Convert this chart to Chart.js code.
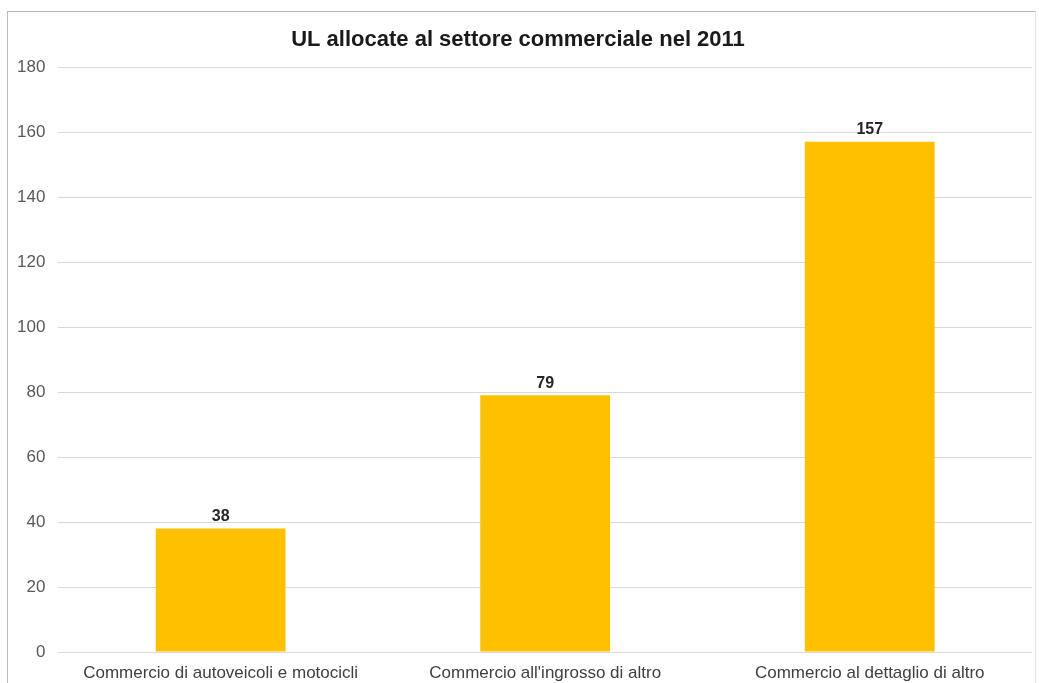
<!DOCTYPE html>
<html>
<head>
<meta charset="utf-8">
<script src="https://cdn.jsdelivr.net/npm/chart.js@4"></script>
<style>
  html, body { margin: 0; padding: 0; background: #fff; overflow: hidden; }
  #wrap { position: relative; width: 1039px; height: 683px; overflow: hidden; }
  #frame { position: absolute; left: 7px; top: 11px; width: 1027px; height: 690px;
           border: 1px solid #aebbd6; border-right-color: #e1e6ef; pointer-events: none; }
</style>
</head>
<body>
<div id="wrap">
  <canvas id="bars" width="1039" height="687"></canvas>
  <div id="frame"></div>
</div>
<script>
const categories = ['Commercio di autoveicoli e motocicli', "Commercio all'ingrosso di altro", 'Commercio al dettaglio di altro'];
const unita = [38, 79, 157];
const yTicks = [0, 20, 40, 60, 80, 100, 120, 140, 160, 180];

// numbers above each bar
const valueLabels = {
  id: 'valueLabels',
  afterDatasetsDraw(chart) {
    const ctx = chart.ctx;
    const meta = chart.getDatasetMeta(0);
    ctx.save();
    ctx.font = 'bold 16px "Liberation Sans", Arial, sans-serif';
    ctx.fillStyle = '#262626';
    ctx.textAlign = 'center';
    ctx.textBaseline = 'bottom';
    meta.data.forEach((bar, i) => {
      ctx.fillText(unita[i], bar.x, bar.y - 4);
    });
    ctx.restore();
  }
};

const ctx = document.getElementById('bars').getContext('2d');
new Chart(ctx, {
  type: 'bar',
  data: {
    labels: categories,
    datasets: [{
      label: 'UL',
      data: unita,
      backgroundColor: '#ffc000',
      borderWidth: 0,
      categoryPercentage: 0.8,
      barPercentage: 0.5
    }]
  },
  options: {
    responsive: false,
    animation: false,
    layout: { padding: { left: 4, right: 7, top: 27, bottom: 0 } },
    plugins: {
      legend: { display: false },
      tooltip: { enabled: false },
      title: {
        display: true,
        text: 'UL allocate al settore commerciale nel 2011',
        color: '#1a1a1a',
        font: { family: '"Liberation Sans", Arial, sans-serif', size: 22, weight: 'bold' },
        padding: { top: 0, bottom: 13.6 }
      }
    },
    scales: {
      x: {
        grid: { display: false },
        border: { display: false },
        ticks: {
          color: '#404040',
          padding: 3.3,
          maxRotation: 0,
          font: { family: '"Liberation Sans", Arial, sans-serif', size: 17 }
        }
      },
      y: {
        min: 0,
        max: 180,
        afterBuildTicks(axis) { axis.ticks = yTicks.map(v => ({ value: v })); },
        grid: { color: '#d9d9d9', lineWidth: 1, drawTicks: false },
        border: { display: false },
        ticks: {
          color: '#595959',
          padding: 13,
          font: { family: '"Liberation Sans", Arial, sans-serif', size: 17 }
        }
      }
    }
  },
  plugins: [valueLabels]
});
</script>
</body>
</html>
